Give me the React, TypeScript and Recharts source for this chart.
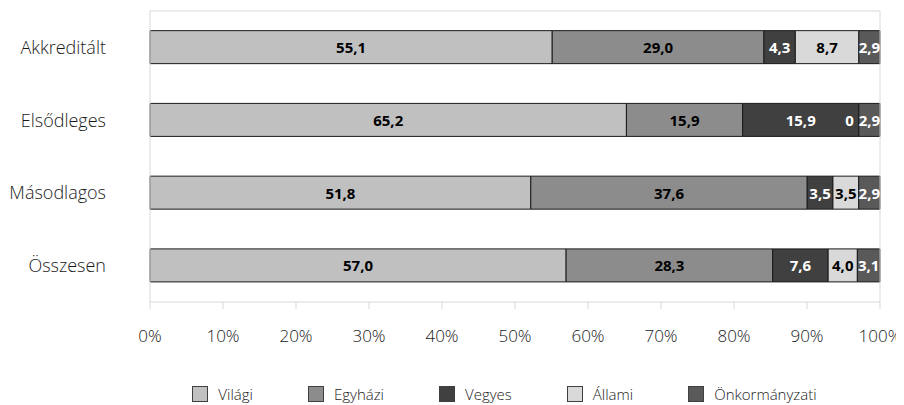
import React from 'react';
import { BarChart, Bar, XAxis, YAxis, LabelList, Legend } from 'recharts';

const categories = ['Akkreditált', 'Elsődleges', 'Másodlagos', 'Összesen'];
const vilagi = [55.1, 65.2, 51.8, 57.0];
const egyhazi = [29.0, 15.9, 37.6, 28.3];
const vegyes = [4.3, 15.9, 3.5, 7.6];
const allami = [8.7, 0, 3.5, 4.0];
const onkormanyzati = [2.9, 2.9, 2.9, 3.1];
const percentTicks = [0, 0.1, 0.2, 0.3, 0.4, 0.5, 0.6, 0.7, 0.8, 0.9, 1];
const bandEdges = [0, 1, 2, 3, 4];

const FONT = "'Open Sans', 'Noto Sans', sans-serif";
const TEXT = '#1a1a1a';
const AXIS = '#d9d9d9';

const series = [
  { key: 'vilagi', name: 'Világi', color: '#c0c0c0', labelColor: '#000' },
  { key: 'egyhazi', name: 'Egyházi', color: '#8c8c8c', labelColor: '#000' },
  { key: 'vegyes', name: 'Vegyes', color: '#404040', labelColor: '#fff' },
  { key: 'allami', name: 'Állami', color: '#d9d9d9', labelColor: '#000' },
  { key: 'onkormanyzati', name: 'Önkormányzati', color: '#595959', labelColor: '#fff' },
];

const data = categories.map((name, i) => ({
  name,
  vilagi: vilagi[i],
  egyhazi: egyhazi[i],
  vegyes: vegyes[i],
  allami: allami[i],
  onkormanyzati: onkormanyzati[i],
}));

const fmt = (v: number) => (v === 0 ? '0' : v.toFixed(1).replace('.', ','));

const labelText = (x: number, y: number, text: string, fill: string, anchor: 'middle' | 'end') => (
  <text
    x={x}
    y={y}
    fill={fill}
    textAnchor={anchor}
    dominantBaseline="central"
    fontSize={15}
    fontWeight={700}
    fontFamily={FONT}
  >
    {text}
  </text>
);

// value label centred in its segment (empty segments draw nothing here)
const makeLabel = (color: string) => (props: any) => {
  const { x, y, width, height, value } = props;
  if (x == null || y == null || Number(value) === 0) return null;
  return labelText(Number(x) + Number(width) / 2, Number(y) + Number(height) / 2, fmt(Number(value)), color, 'middle');
};

// an empty Állami segment has no rect, so its "0" is hung off the
// right end of the Vegyes segment that precedes it
const emptyNextLabel = (props: any) => {
  const { x, y, width, height, value } = props;
  if (x == null || y == null || Number(value) !== 0) return null;
  return labelText(Number(x) + Number(width) - 5, Number(y) + Number(height) / 2, fmt(0), '#fff', 'end');
};

const LegendBox = () => (
  <div
    style={{
      display: 'flex',
      justifyContent: 'center',
      alignItems: 'center',
      height: 22,
      paddingLeft: 120,
      fontFamily: FONT,
      fontSize: 15,
      fontWeight: 300,
      color: TEXT,
    }}
  >
    {series.map((s, i) => (
      <div
        key={s.key}
        style={{ display: 'flex', alignItems: 'center', marginRight: i < series.length - 1 ? 55 : 0 }}
      >
        <span
          style={{
            width: 16,
            height: 16,
            boxSizing: 'border-box',
            background: s.color,
            border: '1px solid #404040',
            marginRight: 10,
          }}
        />
        <span>{s.name}</span>
      </div>
    ))}
  </div>
);

export default function App() {
  return (
    <div style={{ fontFamily: FONT, marginLeft: -8 }}>
      <BarChart
        width={904}
        height={397}
        data={data}
        layout="vertical"
        stackOffset="expand"
        barCategoryGap="27%"
        margin={{ top: 2, right: 23, bottom: 0, left: 8 }}
      >
        <XAxis
          xAxisId="main"
          type="number"
          domain={[0, 1]}
          ticks={percentTicks}
          tickFormatter={(v: number) => `${Math.round(v * 100)}%`}
          height={81}
          tickSize={7}
          tickMargin={21}
          stroke={AXIS}
          tick={{ fill: TEXT, fontSize: 17, fontWeight: 300, fontFamily: FONT }}
        />
        <XAxis
          xAxisId="top"
          orientation="top"
          type="number"
          domain={[0, 1]}
          height={1}
          tick={false}
          tickLine={false}
          stroke={AXIS}
        />
        <YAxis
          yAxisId="cat"
          type="category"
          dataKey="name"
          width={141}
          axisLine={false}
          tickLine={false}
          tickSize={0}
          tickMargin={43}
          tick={{ fill: TEXT, fontSize: 18, fontWeight: 300, fontFamily: FONT }}
        />
        <YAxis
          yAxisId="a_edge"
          type="number"
          domain={[0, 4]}
          ticks={bandEdges}
          width={1}
          tick={false}
          tickSize={7}
          stroke={AXIS}
        />
        <YAxis
          yAxisId="right"
          orientation="right"
          type="number"
          domain={[0, 4]}
          width={1}
          tick={false}
          tickLine={false}
          stroke={AXIS}
        />
        <Legend verticalAlign="bottom" content={() => <LegendBox />} />
        {series.map((s) => (
          <Bar
            key={s.key}
            dataKey={s.key}
            name={s.name}
            stackId="share"
            xAxisId="main"
            yAxisId="cat"
            fill={s.color}
            stroke="#1a1a1a"
            strokeWidth={1}
            isAnimationActive={false}
          >
            <LabelList dataKey={s.key} content={makeLabel(s.labelColor)} />
            {s.key === 'vegyes' && <LabelList dataKey="allami" content={emptyNextLabel} />}
          </Bar>
        ))}
      </BarChart>
    </div>
  );
}
